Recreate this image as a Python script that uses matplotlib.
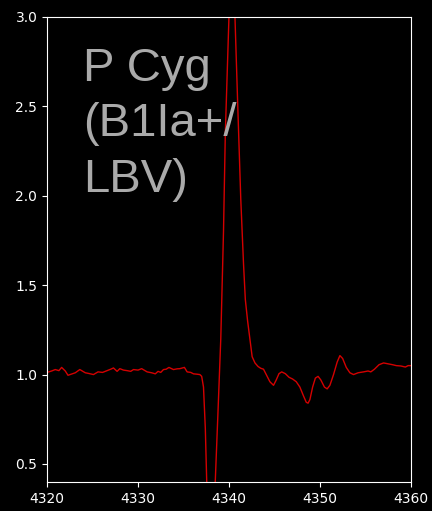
import matplotlib
matplotlib.use("Agg")
import matplotlib.pyplot as plt

wavelength = [4320.0, 4320.5, 4320.9, 4321.3, 4321.6, 4322.0, 4322.3, 4322.7, 4323.1, 4323.6,
              4324.2, 4324.6, 4325.1, 4325.6, 4326.1, 4326.6, 4327.0, 4327.3, 4327.7, 4328.0,
              4328.4, 4328.8, 4329.2, 4329.5, 4330.0, 4330.4, 4331.0, 4331.5, 4331.9, 4332.2,
              4332.5, 4332.8, 4333.1, 4333.4, 4333.9, 4334.3, 4334.6, 4335.1, 4335.4, 4335.8,
              4336.1, 4336.5, 4336.8, 4337.0, 4337.2, 4337.4, 4337.55, 4337.8, 4338.0, 4338.3,
              4338.5, 4338.8, 4339.1, 4339.4, 4339.6, 4340.0, 4340.3, 4340.66, 4341.0, 4341.3,
              4341.6, 4341.8, 4342.05, 4342.3, 4342.55, 4342.86, 4343.2, 4343.5, 4343.8, 4344.1,
              4344.5, 4344.9, 4345.2, 4345.5, 4345.8, 4346.2, 4346.6, 4347.0, 4347.4, 4347.8,
              4348.2, 4348.5, 4348.7, 4348.9, 4349.2, 4349.5, 4349.8, 4350.1, 4350.5, 4350.8,
              4351.1, 4351.5, 4351.9, 4352.2, 4352.5, 4352.9, 4353.3, 4353.7, 4354.2, 4354.8,
              4355.3, 4355.6, 4356.0, 4356.5, 4357.0, 4357.5, 4358.0, 4358.4, 4358.9, 4359.4,
              4359.7, 4360.0]
flux = [1.012, 1.02, 1.028, 1.022, 1.04, 1.02, 0.996, 1.003, 1.01, 1.028,
        1.01, 1.006, 1.0, 1.015, 1.012, 1.022, 1.03, 1.037, 1.018, 1.033,
        1.025, 1.022, 1.018, 1.028, 1.025, 1.033, 1.015, 1.01, 1.004, 1.018,
        1.012, 1.028, 1.03, 1.04, 1.028, 1.032, 1.033, 1.04, 1.015, 1.012,
        1.004, 1.002, 1.0, 0.99, 0.93, 0.7, 0.41, 0.15, 0.08, 0.2,
        0.41, 0.8, 1.2, 1.8, 2.35, 3.0, 3.6, 3.0, 2.45, 1.98,
        1.62, 1.42, 1.3, 1.2, 1.1, 1.065, 1.045, 1.035, 1.03, 1.0,
        0.96, 0.94, 0.97, 1.005, 1.015, 1.005, 0.985, 0.975, 0.96, 0.93,
        0.88, 0.845, 0.84, 0.86, 0.93, 0.98, 0.99, 0.97, 0.93, 0.92,
        0.94, 1.0, 1.07, 1.106, 1.09, 1.04, 1.01, 1.0, 1.01, 1.015,
        1.02, 1.015, 1.03, 1.055, 1.065, 1.06, 1.055, 1.05, 1.048, 1.042,
        1.05, 1.05]

xticks = [4320, 4330, 4340, 4350, 4360]
yticks = [0.5, 1.0, 1.5, 2.0, 2.5, 3.0]
label = "P Cyg\n(B1Ia+/\nLBV)"

plt.style.use("dark_background")
fig = plt.figure(figsize=(4.32, 5.11), dpi=100)
ax = fig.add_axes([0.109, 0.057, 0.842, 0.910])
ax.plot(wavelength, flux, color="#d40000", lw=1.0)
ax.set_xlim(4320, 4360)
ax.set_ylim(0.4, 3.0)
ax.set_xticks(xticks)
ax.set_yticks(yticks)
ax.tick_params(labelsize=10)
for s in ax.spines.values():
    s.set_color("white")
ax.text(0.1, 0.935, label, transform=ax.transAxes, va="top", ha="left",
        fontsize=34, color="#aaaaaa", family="Liberation Sans", linespacing=1.33)
fig.savefig("out.png", dpi=100)
